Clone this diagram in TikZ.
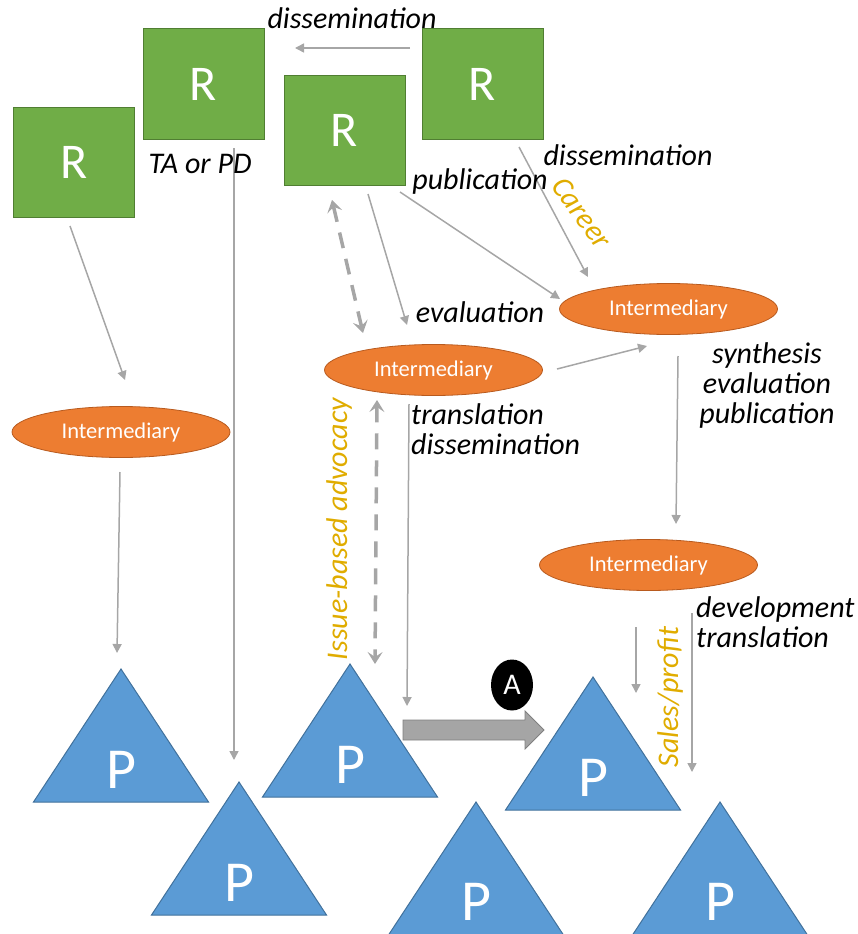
\documentclass[tikz,border=0pt]{standalone}
\usepackage{fontspec}
\setmainfont{Carlito}
\usetikzlibrary{arrows.meta}
\usetikzlibrary{shapes.geometric}
\definecolor{RFill}{HTML}{70AD47}
\definecolor{RLine}{HTML}{507E32}
\definecolor{IFill}{HTML}{ED7D31}
\definecolor{ILine}{HTML}{B85A1E}
\definecolor{PFill}{HTML}{5B9BD5}
\definecolor{PLine}{HTML}{41719C}
\definecolor{Link}{HTML}{A6A6A6}
\definecolor{BigArrow}{HTML}{A5A5A5}
\definecolor{BigArrowLine}{HTML}{808080}
\definecolor{Motive}{RGB}{224,172,0}

\begin{document}
\begin{tikzpicture}[x=1pt, y=-1pt,
    rbox/.style={draw=RLine, fill=RFill, line width=1pt, minimum width=121pt, minimum height=110pt,
        text=white, font=\fontsize{50}{50}\selectfont},
    inter/.style={ellipse, draw=ILine, fill=IFill, line width=0.8pt, minimum width=218pt, minimum height=51pt,
        inner sep=0pt, text=white, font=\fontsize{22.5}{22.5}\selectfont},
    tri/.style={draw=PLine, fill=PFill, line width=1pt, line join=miter},
    ptxt/.style={text=white, inner sep=0pt, font=\fontsize{58}{58}\selectfont},
    lab/.style={inner sep=0pt, font=\fontsize{30}{30}\selectfont\itshape},
    motive/.style={lab, text=Motive},
    link/.style={draw=Link, line width=1.5pt, -{Triangle[length=9pt, width=9pt]}},
    twoway/.style={draw=Link, line width=3.5pt, dash pattern=on 16pt off 11pt,
        {Stealth[length=12pt, width=15pt, inset=5pt]}-{Stealth[length=12pt, width=15pt, inset=5pt]}}
]
    \useasboundingbox (0,0) rectangle (857,934);

    % Researchers
    \node[rbox] (r1) at (74,162) {R};
    \node[rbox] (r2) at (203.5,84) {R};
    \node[rbox] (r3) at (344.5,130) {R};
    \node[rbox] (r4) at (482.5,84) {R};

    % Intermediaries
    \node[inter] (i1) at (121,432) {Intermediary};
    \node[inter] (i2) at (433.5,370) {Intermediary};
    \node[inter] (i3) at (668.5,309) {Intermediary};
    \node[inter] (i4) at (648.5,565) {Intermediary};

    % Practitioners
    \draw[tri] (121,669) -- ++(87.5,133) -- ++(-175,0) -- cycle;
    \node[ptxt] (p1) at (121,770) {P};
    \draw[tri] (239,782) -- ++(87.5,133) -- ++(-175,0) -- cycle;
    \node[ptxt] (p2) at (239,883) {P};
    \draw[tri] (350,664) -- ++(87.5,133) -- ++(-175,0) -- cycle;
    \node[ptxt] (p3) at (350,765) {P};
    \draw[tri] (593,677) -- ++(87.5,133) -- ++(-175,0) -- cycle;
    \node[ptxt] (p4) at (593,778) {P};
    \draw[tri] (476,802) -- ++(87.5,133) -- ++(-175,0) -- cycle;
    \node[ptxt] (p5) at (476,902) {P};
    \draw[tri] (720,802) -- ++(87.5,133) -- ++(-175,0) -- cycle;
    \node[ptxt] (p6) at (720,902) {P};

    % Transfer between practitioners
    \draw[draw=BigArrowLine, fill=BigArrow, line width=0.8pt]
        (403,720) -- (525,720) -- (525,711) -- (544,730) -- (525,749) -- (525,740) -- (403,740) -- cycle;
    \node[ellipse, fill=black, minimum width=42pt, minimum height=51pt, inner sep=0pt,
        text=white, font=\fontsize{30}{30}\selectfont] (a) at (512,685) {A};

    % Connector ends
    \coordinate (r4w) at (410,48);
    \coordinate (r2e) at (295,48);
    \coordinate (r1s) at (70,226);
    \coordinate (i1n) at (125,380);
    \coordinate (i1s) at (120,472);
    \coordinate (p1n) at (117,653);
    \coordinate (r2s) at (234,148);
    \coordinate (p2n) at (234,760);
    \coordinate (r3s) at (368,194);
    \coordinate (i2n) at (407,325);
    \coordinate (r3se) at (400,192);
    \coordinate (i3w) at (560,299);
    \coordinate (r4s) at (519,147);
    \coordinate (i3n) at (588,277);
    \coordinate (r3sw) at (332,200);
    \coordinate (i2nw) at (363,333);
    \coordinate (i2sw) at (377,400);
    \coordinate (p3n) at (375,664);
    \coordinate (i2s) at (409,404);
    \coordinate (p3ne) at (407,706);
    \coordinate (i2e) at (557,369);
    \coordinate (i3sw) at (647,346);
    \coordinate (i3s) at (678,356);
    \coordinate (i4n) at (676,524);
    \coordinate (i4s) at (636,627);
    \coordinate (p4n) at (636,693);
    \coordinate (i4se) at (692,613);
    \coordinate (p6n) at (692,772);

    % Connectors
    \draw[link] (r4w) -- (r2e);
    \draw[link] (r1s) -- (i1n);
    \draw[link] (i1s) -- (p1n);
    \draw[link] (r2s) -- (p2n);
    \draw[link] (r3s) -- (i2n);
    \draw[link] (r3se) -- (i3w);
    \draw[link] (r4s) -- (i3n);
    \draw[link] (i2s) -- (p3ne);
    \draw[link] (i2e) -- (i3sw);
    \draw[link] (i3s) -- (i4n);
    \draw[link] (i4s) -- (p4n);
    \draw[link] (i4se) -- (p6n);
    \draw[twoway] (r3sw) -- (i2nw);
    \draw[twoway] (i2sw) -- (p3n);

    % Labels
    \node[lab, anchor=base] (dissTop) at (352,29) {dissemination};
    \node[lab, anchor=base] (tapd) at (200,173) {TA or PD};
    \node[lab, anchor=base] (pubLab) at (480,189) {publication};
    \node[lab, anchor=base] (dissRight) at (628,165) {dissemination};
    \node[lab, anchor=base] (evalLab) at (480,322) {evaluation};
    \node[lab, anchor=north, align=center] (synthLab) at (767,342) {synthesis\\evaluation\\publication};
    \node[lab, anchor=north west, align=left] (transLab) at (411,403) {translation\\dissemination};
    \node[lab, anchor=north west, align=left] (devLab) at (696,596) {development\\translation};
    \node[motive, rotate=-54] (career) at (582,213) {Career};
    \node[motive, rotate=90] (issue) at (339,529) {Issue-based advocacy};
    \node[motive, rotate=90] (sales) at (670,697) {Sales/profit};
\end{tikzpicture}
\end{document}
